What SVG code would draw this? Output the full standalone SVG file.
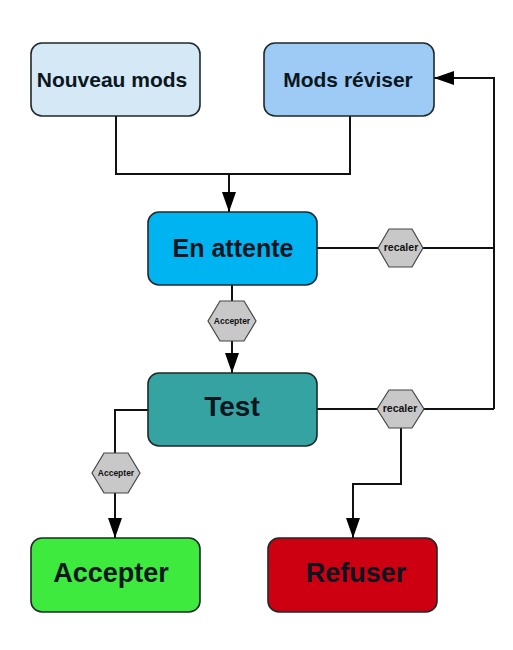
<svg xmlns="http://www.w3.org/2000/svg" width="513" height="650" viewBox="0 0 513 650">
  <defs>
    <marker id="arr" markerUnits="userSpaceOnUse" markerWidth="20" markerHeight="14" refX="20" refY="7" orient="auto">
      <path d="M0,0 L20,7 L0,14 Z" fill="#000"/>
    </marker>
    <style>
      .box { stroke: #1e2a2a; stroke-width: 1.6; }
      .lbl { font-family: "Liberation Sans", Arial, sans-serif; font-weight: bold; fill: #0b1620; text-anchor: middle; dominant-baseline: central; }
      .hex { fill: #c8c8c8; stroke: #444; stroke-width: 1.2; }
      .hl { font-family: "Liberation Sans", Arial, sans-serif; font-weight: bold; fill: #111; text-anchor: middle; dominant-baseline: central; }
      .con { fill: none; stroke: #111; stroke-width: 2; }
    </style>
  </defs>
  <rect width="513" height="650" fill="#fff"/>

  <g id="connectors">
    <path class="con" d="M116,116 V174 H229"/>
    <path class="con" d="M350,116 V174 H229"/>
    <path class="con" d="M229,174 V212" marker-end="url(#arr)"/>
    <path class="con" d="M317,248 H494"/>
    <path class="con" d="M317,409 H494"/>
    <path class="con" d="M494,409 V78 H434" marker-end="url(#arr)"/>
    <path class="con" d="M232,285 V373" marker-end="url(#arr)"/>
    <path class="con" d="M148,410 H115 V538" marker-end="url(#arr)"/>
    <path class="con" d="M401,428 V484 H353 V538" marker-end="url(#arr)"/>
  </g>

  <g id="nouveau-mods">
    <rect class="box" x="31" y="43" width="169" height="73" rx="11" fill="#d4e8f5"/>
    <text class="lbl" x="112" y="79" font-size="21">Nouveau mods</text>
  </g>
  <g id="mods-reviser">
    <rect class="box" x="264" y="43" width="170" height="73" rx="11" fill="#9dcbf5"/>
    <text class="lbl" x="348" y="79" font-size="21">Mods réviser</text>
  </g>
  <g id="en-attente">
    <rect class="box" x="148" y="212" width="169" height="73" rx="11" fill="#00b4f2"/>
    <text class="lbl" x="233" y="248" font-size="25">En attente</text>
  </g>
  <g id="test">
    <rect class="box" x="148" y="373" width="169" height="73" rx="11" fill="#35a3a2"/>
    <text class="lbl" x="232" y="406" font-size="28">Test</text>
  </g>
  <g id="accepter">
    <rect class="box" x="31" y="538" width="169" height="74" rx="11" fill="#3eea3e"/>
    <text class="lbl" x="111" y="573" font-size="27">Accepter</text>
  </g>
  <g id="refuser">
    <rect class="box" x="268" y="538" width="169" height="74" rx="11" fill="#cc0010"/>
    <text class="lbl" x="356" y="573" font-size="27">Refuser</text>
  </g>

  <g id="hex-recaler-1">
    <polygon class="hex" points="378,248 389,229 412,229 423,248 412,267 389,267"/>
    <text class="hl" x="401" y="247" font-size="10.5">recaler</text>
  </g>
  <g id="hex-accepter-1">
    <polygon class="hex" points="208,321 220,301 244,301 256,321 244,341 220,341"/>
    <text class="hl" x="232" y="321" font-size="8.5">Accepter</text>
  </g>
  <g id="hex-recaler-2">
    <polygon class="hex" points="377,409 389,390 412,390 424,409 412,428 389,428"/>
    <text class="hl" x="400" y="408" font-size="10.5">recaler</text>
  </g>
  <g id="hex-accepter-2">
    <polygon class="hex" points="92,473 104,453 128,453 140,473 128,493 104,493"/>
    <text class="hl" x="116" y="473" font-size="8.5">Accepter</text>
  </g>
</svg>
